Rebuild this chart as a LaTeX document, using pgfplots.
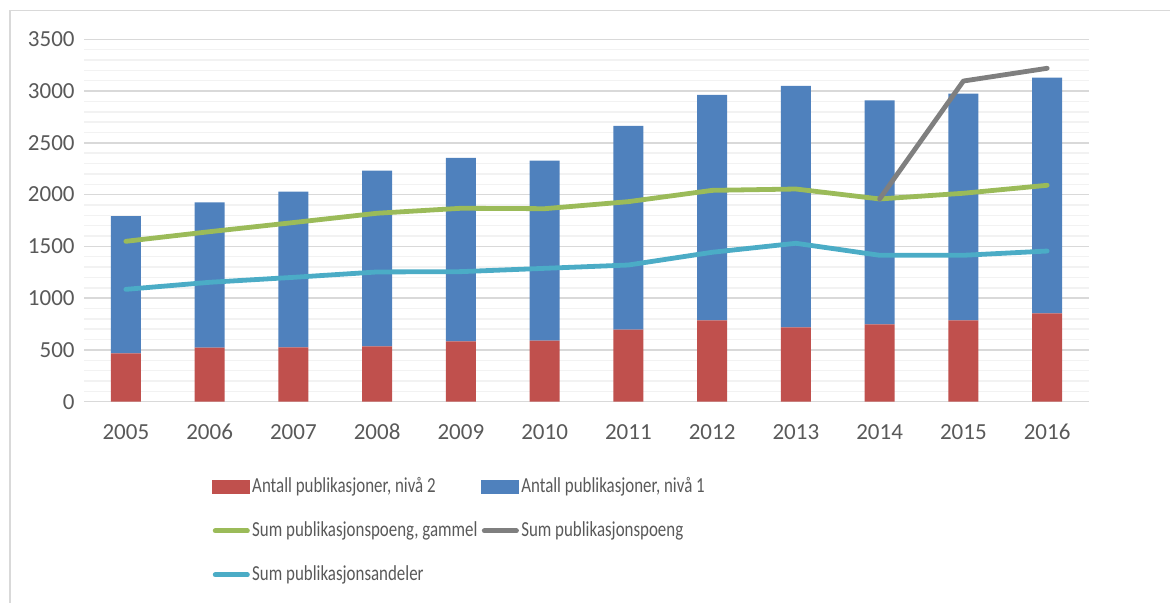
\documentclass[border=0pt]{standalone}
\usepackage{pgfplots}
\pgfplotsset{compat=1.18}
\usepackage{fontspec}
\setmainfont{Carlito}
\newfontfamily\legfont[FakeStretch=0.79]{Carlito}

\definecolor{txt}{HTML}{595959}
\definecolor{gridmaj}{HTML}{D9D9D9}
\definecolor{gridmin}{HTML}{F2F2F2}
\definecolor{barred}{HTML}{C0504D}
\definecolor{barblue}{HTML}{4F81BD}
\definecolor{lgreen}{HTML}{9BBB59}
\definecolor{lgray}{HTML}{7F7F7F}
\definecolor{lcyan}{HTML}{4BACC6}

\pgfplotsset{
  base/.style={
    scale only axis, width=502.5pt, height=181.2pt,
    at={(42pt,100.65pt)}, anchor=south west,
    xmin=-0.5, xmax=11.5, ymin=0, ymax=3500,
  },
  linelegend/.style={legend image code/.code={\draw[##1] (1.2pt,0pt) -- (17.3pt,0pt);}},
}

% 2005..2016 at x = 0..11
\pgfplotstableread{
x niva2 niva1 gammel andeler
0 467 1326 1549 1085
1 522 1404 1642 1153
2 525 1503 1730 1201
3 535 1696 1820 1253
4 583 1771 1868 1256
5 589 1739 1864 1288
6 696 1967 1932 1320
7 786 2176 2041 1443
8 718 2331 2054 1530
9 747 2164 1958 1414
10 786 2189 2013 1414
11 854 2275 2090 1455
}\data

\begin{document}
\begin{tikzpicture}[x=1pt,y=1pt]
\path[use as bounding box] (0,0) rectangle (585,301.5);
\draw[gridmaj, line width=0.7pt] (5,0) -- (5,296.2) -- (585,296.2);

\begin{axis}[base,
  ybar stacked, bar width=15pt,
  axis x line*=bottom, axis y line*=left,
  x axis line style={draw=gridmaj, line width=0.8pt},
  y axis line style={draw=none},
  major tick length=0pt, minor tick length=0pt,
  ytick={0,500,...,3500},
  minor y tick num=4,
  ymajorgrids, yminorgrids,
  major grid style={gridmaj, line width=0.75pt},
  minor grid style={gridmin, line width=0.75pt},
  xtick={0,...,11},
  xticklabels={2005,2006,2007,2008,2009,2010,2011,2012,2013,2014,2015,2016},
  ticklabel style={font=\fontsize{11.5}{13}\selectfont, text=txt, inner sep=0pt},
  yticklabel style={anchor=east, xshift=-4.5pt},
  xticklabel style={anchor=base, yshift=-19.15pt},
  /pgf/number format/1000 sep={},
  /pgf/number format/assume math mode=true,
]
\addplot[fill=barred, draw=none] table[x=x, y=niva2] {\data};
\addplot[fill=barblue, draw=none] table[x=x, y=niva1] {\data};
\end{axis}

\begin{axis}[base, hide axis,
  legend columns=2,
  legend style={draw=none, fill=none,
    at={(0.1214,-0.1967)}, anchor=north west,
    font=\legfont\fontsize{10.7}{12}\selectfont, text=txt,
    nodes={inner sep=0pt, text height=7.5pt, text depth=2pt},
    row sep=12.5pt,
    /tikz/every odd column/.append style={column sep=1pt},
    /tikz/every even column/.append style={column sep=2pt},
  },
  legend cell align=left,
]
\addlegendimage{legend image code/.code={\fill[barred] (0pt,-3.3pt) rectangle (18.5pt,3.3pt);}}
\addlegendentry{Antall publikasjoner, nivå 2}
\addlegendimage{legend image code/.code={\fill[barblue] (0pt,-3.3pt) rectangle (18.5pt,3.3pt);}}
\addlegendentry{Antall publikasjoner, nivå 1}
\addplot[lgreen, line width=2.4pt, line cap=round, line join=round, linelegend] table[x=x, y=gammel] {\data};
\addlegendentry{Sum publikasjonspoeng, gammel}
\addplot[lgray, line width=2.4pt, line cap=round, line join=round, linelegend] coordinates {(9,1958) (10,3097) (11,3220)};
\addlegendentry{Sum publikasjonspoeng}
\addplot[lcyan, line width=2.4pt, line cap=round, line join=round, linelegend] table[x=x, y=andeler] {\data};
\addlegendentry{Sum publikasjonsandeler}
\end{axis}
\end{tikzpicture}
\end{document}
